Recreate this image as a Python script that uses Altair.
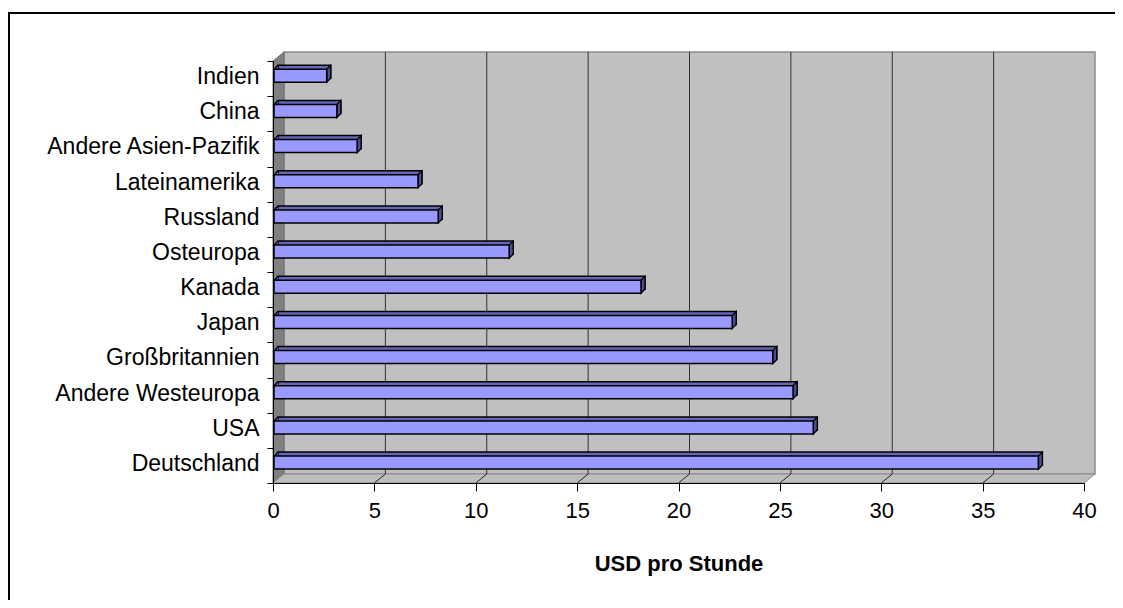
import altair as alt
import pandas as pd

# ---- data ----
categories = ["Indien", "China", "Andere Asien-Pazifik", "Lateinamerika", "Russland",
              "Osteuropa", "Kanada", "Japan", "Großbritannien", "Andere Westeuropa",
              "USA", "Deutschland"]
values = [2.6, 3.1, 4.1, 7.1, 8.1, 11.6, 18.1, 22.6, 24.6, 25.6, 26.6, 37.7]
x_ticks = [0, 5, 10, 15, 20, 25, 30, 35, 40]
x_title = "USD pro Stunde"

# ---- layout / style ----
W, H = 811, 422          # front plot area
DX, DY = 11, -9          # 3D depth offset of the back wall
BD = 4                   # bar depth offset
BH = 13                  # bar front-face thickness
BYO = -2.8               # bar vertical offset in band
FONT = "Liberation Sans"
FRONT = "#9999FF"
TOP = "#6666B8"
SIDE = "#4E4E8E"

bars = pd.DataFrame({"Region": categories, "USD": values})
ticks = pd.DataFrame({"t": x_ticks})
inner = ticks[(ticks.t > 0) & (ticks.t < 40)]
one = pd.DataFrame({"k": [0]})

xs = alt.Scale(domain=[0, 40], nice=False, zero=True)
ys = alt.Scale(paddingInner=0, paddingOuter=0)

X_AX = alt.Axis(values=x_ticks, title=x_title, titleFont=FONT, titleFontSize=22,
                titleFontWeight="bold", titleColor="black", titlePadding=32,
                labelFont=FONT, labelFontSize=22, labelColor="black",
                labelPadding=9, tickColor="black", tickSize=8, tickWidth=1,
                domainColor="black", domainWidth=1, grid=False, zindex=1,
                labelFlush=False)
Y_AX = alt.Axis(title=None, labelFont=FONT, labelFontSize=23, labelColor="black",
                labelPadding=8, labelOffset=-2, tickBand="extent", tickSize=6,
                tickColor="black", domainColor="black", domainWidth=1,
                grid=False, zindex=1, labelLimit=400)

Y = alt.Y("Region:N", sort=categories, scale=ys, axis=Y_AX)

# frame (chart-area border, partly cut off like the reference)
frame_left = alt.Chart(one).mark_rule(color="black", strokeWidth=2).encode(
    x=alt.value(-264), y=alt.value(-48), y2=alt.value(560))
frame_top = alt.Chart(one).mark_rule(color="black", strokeWidth=2).encode(
    x=alt.value(-265), x2=alt.value(900), y=alt.value(-48))

def poly(path, fill, stroke, sw=1):
    return alt.Chart(one).mark_point(shape=path, size=4, filled=True, fill=fill,
                                     stroke=stroke, strokeWidth=sw, opacity=1,
                                     fillOpacity=1, strokeOpacity=1).encode(
        x=alt.value(0), y=alt.value(0))

back_wall = poly(f"M{DX},{DY}L{W+DX},{DY}L{W+DX},{H+DY}L{DX},{H+DY}Z", "#C0C0C0", "#8C8C8C", 1.5)
left_wall = poly(f"M0,0L{DX},{DY}L{DX},{H+DY}L0,{H}Z", "#808080", "#6E6E6E", 1)
floor = poly(f"M0,{H}L{DX},{H+DY}L{W+DX},{H+DY}L{W},{H}Z", "#BEBEBE", "#8C8C8C", 1)

grid = alt.Chart(inner).mark_rule(color="#303030", strokeWidth=1, xOffset=DX, x2Offset=DX).encode(
    x=alt.X("t:Q", scale=xs, axis=X_AX), y=alt.value(DY), y2=alt.value(H + DY))
floor_lines = alt.Chart(inner).mark_rule(color="#202020", strokeWidth=1, xOffset=0, x2Offset=DX,
                                         yOffset=0, y2Offset=0).encode(
    x=alt.X("t:Q", scale=xs, axis=X_AX), x2="t:Q", y=alt.value(H), y2=alt.value(H + DY))

# back box (top + right faces)
bar_back = alt.Chart(bars).mark_bar(size=BH, color=TOP, stroke="black", strokeWidth=1.5,
                                    xOffset=1 + BD, x2Offset=1 + BD,
                                    yOffset=BYO - BD, y2Offset=BYO - BD).encode(
    x=alt.X("USD:Q", scale=xs, axis=X_AX), y=Y)

side_face = alt.Chart(bars).mark_point(
    shape=f"M0,0L{BD},{-BD}L{BD},{BH-BD}L0,{BH}Z", size=4, filled=True, fill=SIDE,
    stroke="black", strokeWidth=1.3, opacity=1, fillOpacity=1, strokeOpacity=1,
    xOffset=1, yOffset=BYO - BH / 2).encode(
    x=alt.X("USD:Q", scale=xs, axis=X_AX), y=Y)

corner = alt.Chart(bars).mark_point(
    shape=f"M{BD},0L0,0L{BD},{-BD}", size=4, filled=True, fill=TOP,
    stroke="black", strokeWidth=1.3, opacity=1, fillOpacity=1, strokeOpacity=1,
    xOffset=1, yOffset=BYO - BH / 2).encode(
    x=alt.datum(0, scale=xs, axis=X_AX), y=Y)

bar_front = alt.Chart(bars).mark_bar(size=BH, color=FRONT, stroke="black", strokeWidth=1.5,
                                     xOffset=1, x2Offset=1, yOffset=BYO, y2Offset=BYO).encode(
    x=alt.X("USD:Q", scale=xs, axis=X_AX), y=Y)

chart = alt.layer(frame_left, frame_top, back_wall, left_wall, floor, grid, floor_lines,
                  bar_back, side_face, corner, bar_front).properties(
    width=W, height=H,
    autosize=alt.AutoSizeParams(type="none"),
    padding={"left": 265, "top": 53, "right": 31, "bottom": 117},
    background="white",
).configure_view(stroke=None)

chart.save("out.html", embed_options={"renderer": "svg", "actions": False})
